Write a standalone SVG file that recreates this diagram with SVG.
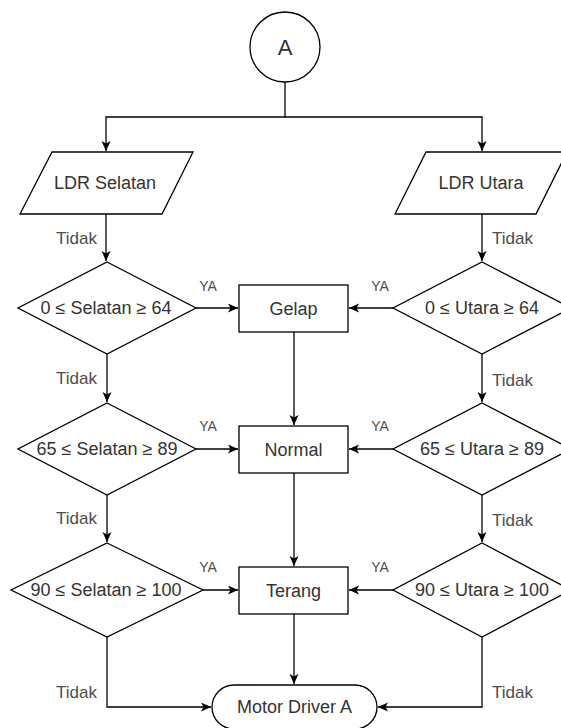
<svg xmlns="http://www.w3.org/2000/svg" width="561" height="728" viewBox="0 0 561 728">
  <style>
    .shape { fill: #ffffff; stroke: #000000; stroke-width: 1.3; }
    .edge { fill: none; stroke: #000000; stroke-width: 1.3; }
    .label { font-family: "Liberation Sans", Arial, sans-serif; font-size: 18px; fill: #333333; text-anchor: middle; }
    .no { font-family: "Liberation Sans", Arial, sans-serif; font-size: 17px; fill: #4d4d4d; }
    .yes { font-family: "Liberation Sans", Arial, sans-serif; font-size: 14px; fill: #4d4d4d; text-anchor: middle; }
  </style>
  <defs>
    <marker id="arrow" markerUnits="userSpaceOnUse" markerWidth="11" markerHeight="10" refX="10" refY="4.5" orient="auto">
      <path d="M0,0 L10,4.5 L0,9 L2.5,4.5 z" fill="#000000"/>
    </marker>
  </defs>
  <rect width="561" height="728" fill="#ffffff"/>

  <!-- connectors -->
  <g id="connectors">
    <path class="edge" d="M285,82 V117"/>
    <path class="edge" d="M285,117 H106 V151" marker-end="url(#arrow)"/>
    <path class="edge" d="M285,117 H482 V151" marker-end="url(#arrow)"/>
    <path class="edge" d="M106,214 V261" marker-end="url(#arrow)"/>
    <path class="edge" d="M482,214 V261" marker-end="url(#arrow)"/>
    <path class="edge" d="M107,354 V402" marker-end="url(#arrow)"/>
    <path class="edge" d="M482,354 V402" marker-end="url(#arrow)"/>
    <path class="edge" d="M107,495 V542" marker-end="url(#arrow)"/>
    <path class="edge" d="M482,495 V542" marker-end="url(#arrow)"/>
    <path class="edge" d="M196,308 H238" marker-end="url(#arrow)"/>
    <path class="edge" d="M393,308 H349" marker-end="url(#arrow)"/>
    <path class="edge" d="M196,449 H238" marker-end="url(#arrow)"/>
    <path class="edge" d="M393,449 H349" marker-end="url(#arrow)"/>
    <path class="edge" d="M203,590 H238" marker-end="url(#arrow)"/>
    <path class="edge" d="M393,590 H349" marker-end="url(#arrow)"/>
    <path class="edge" d="M294,332 V425" marker-end="url(#arrow)"/>
    <path class="edge" d="M294,473 V566" marker-end="url(#arrow)"/>
    <path class="edge" d="M294,614 V684" marker-end="url(#arrow)"/>
    <path class="edge" d="M107,637 V707 H211" marker-end="url(#arrow)"/>
    <path class="edge" d="M482,637 V707 H378" marker-end="url(#arrow)"/>
    <!-- branch labels -->
    <text class="no" x="97" y="244" text-anchor="end">Tidak</text>
    <text class="no" x="492" y="244">Tidak</text>
    <text class="no" x="97" y="384" text-anchor="end">Tidak</text>
    <text class="no" x="492" y="386">Tidak</text>
    <text class="no" x="97" y="524" text-anchor="end">Tidak</text>
    <text class="no" x="492" y="526">Tidak</text>
    <text class="no" x="97" y="698" text-anchor="end">Tidak</text>
    <text class="no" x="492" y="698">Tidak</text>
    <text class="yes" x="208" y="291">YA</text>
    <text class="yes" x="380" y="291">YA</text>
    <text class="yes" x="208" y="431">YA</text>
    <text class="yes" x="380" y="431">YA</text>
    <text class="yes" x="208" y="572">YA</text>
    <text class="yes" x="380" y="572">YA</text>
  </g>

  <g id="start">
    <circle class="shape" cx="285" cy="47" r="35"/>
    <text class="label" x="285" y="55" style="font-size:22px">A</text>
  </g>

  <g id="ldr-selatan">
    <polygon class="shape" points="52,152 193,152 162,214 20,214"/>
    <text class="label" x="105" y="189">LDR Selatan</text>
  </g>
  <g id="ldr-utara">
    <polygon class="shape" points="426,152 567,152 536,214 395,214"/>
    <text class="label" x="481" y="189">LDR Utara</text>
  </g>

  <g id="cek-selatan-1">
    <polygon class="shape" points="107,262 196,308 107,354 18,308"/>
    <text class="label" x="106" y="314">0 ≤ Selatan ≥ 64</text>
  </g>
  <g id="cek-utara-1">
    <polygon class="shape" points="482,262 571,308 482,354 393,308"/>
    <text class="label" x="482" y="314">0 ≤ Utara ≥ 64</text>
  </g>
  <g id="cek-selatan-2">
    <polygon class="shape" points="107,403 196,449 107,495 18,449"/>
    <text class="label" x="107" y="455">65 ≤ Selatan ≥ 89</text>
  </g>
  <g id="cek-utara-2">
    <polygon class="shape" points="482,403 571,449 482,495 393,449"/>
    <text class="label" x="482" y="455">65 ≤ Utara ≥ 89</text>
  </g>
  <g id="cek-selatan-3">
    <polygon class="shape" points="107,543 203,590 107,637 11,590"/>
    <text class="label" x="106" y="596">90 ≤ Selatan ≥ 100</text>
  </g>
  <g id="cek-utara-3">
    <polygon class="shape" points="482,543 571,590 482,637 393,590"/>
    <text class="label" x="482" y="596">90 ≤ Utara ≥ 100</text>
  </g>

  <g id="gelap">
    <rect class="shape" x="239" y="285" width="109" height="47"/>
    <text class="label" x="293.5" y="314.5">Gelap</text>
  </g>
  <g id="normal">
    <rect class="shape" x="239" y="426" width="109" height="47"/>
    <text class="label" x="293.5" y="455.5">Normal</text>
  </g>
  <g id="terang">
    <rect class="shape" x="239" y="567" width="109" height="47"/>
    <text class="label" x="293.5" y="596.5">Terang</text>
  </g>

  <g id="motor-driver-a">
    <rect class="shape" x="212" y="685" width="165" height="44" rx="22" ry="22"/>
    <text class="label" x="294.5" y="713">Motor Driver A</text>
  </g>
</svg>
